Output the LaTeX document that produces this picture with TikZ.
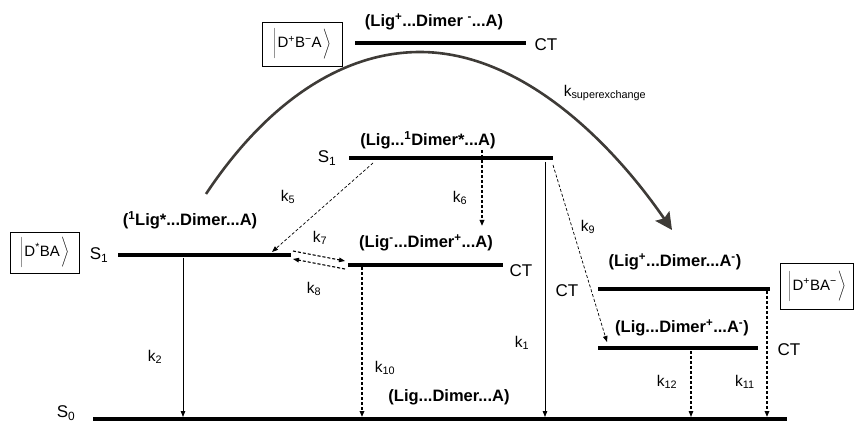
\documentclass[tikz,border=0pt]{standalone}
\usepackage{fontspec}
\setmainfont{Liberation Sans}
\usetikzlibrary{arrows.meta}
\definecolor{arcgray}{HTML}{3E3B37}
\begin{document}
\begin{tikzpicture}[x=1pt,y=-1pt,
  lvl/.style={line width=4pt},
  lab/.style={font=\fontsize{16.5}{18}\selectfont\bfseries, inner sep=0pt},
  st/.style={font=\fontsize{17}{19}\selectfont, inner sep=0pt},
  kl/.style={font=\fontsize{15.5}{17}\selectfont, inner sep=0pt},
  ket/.style={draw, line width=0.8pt, font=\fontsize{15}{17}\selectfont, inner sep=0pt, anchor=center},
  tipa/.style={-{Triangle[length=6pt,width=4.5pt]}},
  solidk/.style={tipa, line width=0.8pt},
  thickdash/.style={tipa, line width=1.6pt, dash pattern=on 3pt off 2pt},
  thindash/.style={tipa, line width=0.7pt, dash pattern=on 3pt off 2pt},
  middash/.style={tipa, line width=1.1pt, dash pattern=on 3pt off 2pt}
]
\useasboundingbox (0,0) rectangle (855,422);
\newcommand{\ketbar}{\vphantom{\rule[-10pt]{0pt}{24pt}}}
% ---- level coordinates
\coordinate (ct0l) at (355,43);  \coordinate (ct0r) at (526,43);
\coordinate (s1dl) at (349,158); \coordinate (s1dr) at (553,158);
\coordinate (s1ll) at (118,255); \coordinate (s1lr) at (291,255);
\coordinate (ct1l) at (348,265); \coordinate (ct1r) at (503,265);
\coordinate (ct2l) at (598,289); \coordinate (ct2r) at (770,289);
\coordinate (ct3l) at (598,348); \coordinate (ct3r) at (758,348);
\coordinate (s0l) at (93,419);   \coordinate (s0r) at (787,419);
\draw[lvl] (ct0l) -- (ct0r);
\draw[lvl] (s1dl) -- (s1dr);
\draw[lvl] (s1ll) -- (s1lr);
\draw[lvl] (ct1l) -- (ct1r);
\draw[lvl] (ct2l) -- (ct2r);
\draw[lvl] (ct3l) -- (ct3r);
\draw[lvl] (s0l) -- (s0r);
% ---- level labels
\node[lab] (lct0) at (434,22) {(Lig\textsuperscript{+}...Dimer \textsuperscript{-}...A)};
\node[lab] (ls1d) at (428,140) {(Lig...\textsuperscript{1}Dimer*...A)};
\node[lab] (ls1l) at (190,220) {(\textsuperscript{1}Lig*...Dimer...A)};
\node[lab] (lct1) at (426,243) {(Lig\textsuperscript{-}...Dimer\textsuperscript{+}...A)};
\node[lab] (lct2) at (675,262) {(Lig\textsuperscript{+}...Dimer...A\textsuperscript{-})};
\node[lab] (lct3) at (682,328) {(Lig...Dimer\textsuperscript{+}...A\textsuperscript{-})};
\node[lab] (ls0) at (449,397) {(Lig...Dimer...A)};
% ---- state names
\node[st] (tct0) at (546,45) {CT};
\node[st] (ts1d) at (327,158) {S\textsubscript{1}};
\node[st] (ts1l) at (99,255) {S\textsubscript{1}};
\node[st] (tct1) at (521,271) {CT};
\node[st] (tct2) at (567,291) {CT};
\node[st] (tct3) at (789,350) {CT};
\node[st] (ts0) at (66,413) {S\textsubscript{0}};
% ---- kets
\node[ket, minimum width=80pt, minimum height=44pt] (k1box) at (302,44)
  {$\left|\ketbar\right.$D\textsuperscript{+}B\textsuperscript{−}A$\left.\ketbar\right\rangle$};
\node[ket, minimum width=69pt, minimum height=41pt] (k2box) at (44.5,252.5)
  {$\left|\ketbar\right.$D\textsuperscript{*}BA$\left.\ketbar\right\rangle$};
\node[ket, minimum width=73pt, minimum height=46pt] (k3box) at (817,286.5)
  {$\left|\ketbar\right.$D\textsuperscript{+}BA\textsuperscript{−}$\left.\ketbar\right\rangle$};
% ---- arrow end points
\coordinate (a2s) at (183,258);  \coordinate (a2e) at (183,417);
\coordinate (a10s) at (362,267); \coordinate (a10e) at (362,417);
\coordinate (a1s) at (545,162);  \coordinate (a1e) at (545,417);
\coordinate (a12s) at (691,351); \coordinate (a12e) at (691,417);
\coordinate (a11s) at (767,291); \coordinate (a11e) at (767,417);
\coordinate (a6s) at (482,150);  \coordinate (a6e) at (482,226);
\coordinate (a5s) at (373,163);  \coordinate (a5e) at (272,252);
\coordinate (a7s) at (293,251);  \coordinate (a7e) at (345,261);
\coordinate (a8s) at (345,269);  \coordinate (a8e) at (293,259);
\coordinate (a9s) at (553,165);  \coordinate (a9e) at (607,342);
\coordinate (sxs) at (206,194);  \coordinate (sxm) at (420,52);
\coordinate (sxe) at (672,230);
% ---- arrows
\draw[solidk] (a2s) -- (a2e);
\draw[solidk] (a1s) -- (a1e);
\draw[thickdash] (a10s) -- (a10e);
\draw[thickdash] (a11s) -- (a11e);
\draw[middash] (a12s) -- (a12e);
\draw[thickdash] (a6s) -- (a6e);
\draw[thindash] (a5s) -- (a5e);
\draw[middash] (a7s) -- (a7e);
\draw[middash] (a8s) -- (a8e);
\draw[thindash] (a9s) -- (a9e);
\draw[arcgray, line width=2.6pt, -{Stealth[length=17pt,width=17pt,inset=3pt]}]
  (sxs) .. controls (265,105) and (340,52) .. (sxm)
        .. controls (520,52) and (610,140) .. (sxe);
% ---- rate labels
\node[kl] (tk2) at (155,357) {k\textsubscript{2}};
\node[kl] (tk10) at (385,368) {k\textsubscript{10}};
\node[kl] (tk1) at (522,343) {k\textsubscript{1}};
\node[kl] (tk12) at (667,382) {k\textsubscript{12}};
\node[kl] (tk11) at (745,382) {k\textsubscript{11}};
\node[kl] (tk6) at (460,198) {k\textsubscript{6}};
\node[kl] (tk5) at (288,197) {k\textsubscript{5}};
\node[kl] (tk7) at (320,238) {k\textsubscript{7}};
\node[kl] (tk8) at (314,289) {k\textsubscript{8}};
\node[kl] (tk9) at (588,227) {k\textsubscript{9}};
\node[kl] (tksx) at (605,93) {k\textsubscript{superexchange}};
\end{tikzpicture}
\end{document}
